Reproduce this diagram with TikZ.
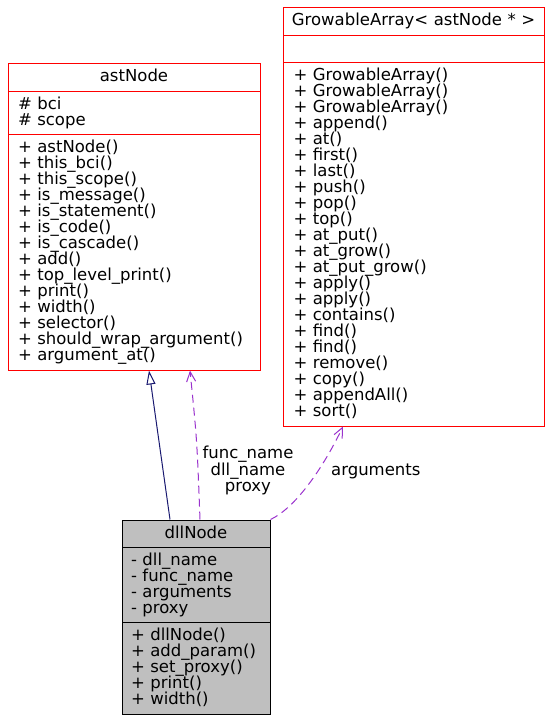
\documentclass[tikz,border=0pt]{standalone}
\usepackage{fontspec}
\setmainfont{DejaVu Sans}
\usetikzlibrary{shapes.multipart,arrows.meta}

\definecolor{umlred}{HTML}{FF0000}
\definecolor{inheritblue}{HTML}{191970}
\definecolor{usagepurple}{HTML}{9A32CD}
\definecolor{currentgray}{HTML}{BFBFBF}

\setlength{\parindent}{0pt}
\setlength{\parskip}{0pt}
\newcommand{\umlstrut}{\leavevmode\vrule height12.5pt depth3.5pt width0pt}
\newcommand{\umlendstrut}{\leavevmode\vrule height12.5pt depth4pt width0pt}
\newcommand{\cname}[1]{\hbox to\hsize{\hss\umlendstrut\smash{#1}\hss}}
\newcommand{\mline}[1]{\umlstrut\smash{#1}\par}
\newcommand{\mlast}[1]{\umlendstrut\smash{#1}\par}

\tikzset{
  classbox/.style={rectangle split, rectangle split parts=3, draw, color=umlred, text=black, fill=white,
    line width=1pt, inner ysep=5pt, align=left, font=\fontsize{16.5}{16}\selectfont},
  currentclass/.style={classbox, color=black, fill=currentgray},
  inherit/.style={color=inheritblue, line width=1pt, -{Triangle[open,length=14pt,width=9pt]}},
  usage/.style={color=usagepurple, line width=1pt, dash pattern=on 8pt off 5pt,
    -{Straight Barb[length=10pt,width=9pt]}},
  edgelabel/.style={text=black, inner sep=2pt, align=center, font=\fontsize{16.5}{16}\selectfont}
}

\begin{document}
\begin{tikzpicture}[x=1pt,y=-1pt]
  \useasboundingbox (0,0) rectangle (551,719);
  % classes
  \node[classbox, anchor=north west, inner xsep=10pt, text width=232pt] (astNode) at (7.5,63.5) {\cname{astNode}
    \nodepart{two}\mline{\# bci}\mline{\# scope}
    \nodepart{three}\mline{+ astNode()}\mline{+ this\_bci()}\mline{+ this\_scope()}\mline{+ is\_message()}
    \mline{+ is\_statement()}\mline{+ is\_code()}\mline{+ is\_cascade()}\mline{+ add()}
    \mline{+ top\_level\_print()}\mline{+ print()}\mline{+ width()}\mline{+ selector()}
    \mline{+ should\_wrap\_argument()}\mlast{+ argument\_at()}};
  \node[classbox, anchor=north west, inner xsep=10.5pt, text width=240pt] (GrowableArray) at (282.5,7.5) {\cname{GrowableArray< astNode * >}
    \nodepart{two}\mline{}
    \nodepart{three}\mline{+ GrowableArray()}\mline{+ GrowableArray()}\mline{+ GrowableArray()}
    \mline{+ append()}\mline{+ at()}\mline{+ first()}\mline{+ last()}\mline{+ push()}\mline{+ pop()}
    \mline{+ top()}\mline{+ at\_put()}\mline{+ at\_grow()}\mline{+ at\_put\_grow()}\mline{+ apply()}
    \mline{+ apply()}\mline{+ contains()}\mline{+ find()}\mline{+ find()}\mline{+ remove()}
    \mline{+ copy()}\mline{+ appendAll()}\mlast{+ sort()}};
  \node[currentclass, anchor=north west, inner xsep=9pt, text width=130pt] (dllNode) at (121.5,519.5) {\cname{dllNode}
    \nodepart{two}\mline{- dll\_name}\mline{- func\_name}\mline{- arguments}\mline{- proxy}
    \nodepart{three}\mline{+ dllNode()}\mline{+ add\_param()}\mline{+ set\_proxy()}\mline{+ print()}\mlast{+ width()}};
  % relations
  \draw[inherit] ([xshift=-26pt]dllNode.north) -- ([xshift=15pt]astNode.south);
  \draw[usage] ([xshift=4pt]dllNode.north) .. controls (197,440) .. ([xshift=56pt]astNode.south)
    node[edgelabel, pos=0.265, anchor=west, xshift=2pt] (lblAst) {func\_name\\dll\_name\\proxy};
  \draw[usage] (dllNode.north east) .. controls (295,508) and (322,470) .. ([xshift=-70.5pt]GrowableArray.south)
    node[edgelabel, pos=0.63, anchor=west, xshift=11pt] (lblArgs) {arguments};
\end{tikzpicture}
\end{document}
